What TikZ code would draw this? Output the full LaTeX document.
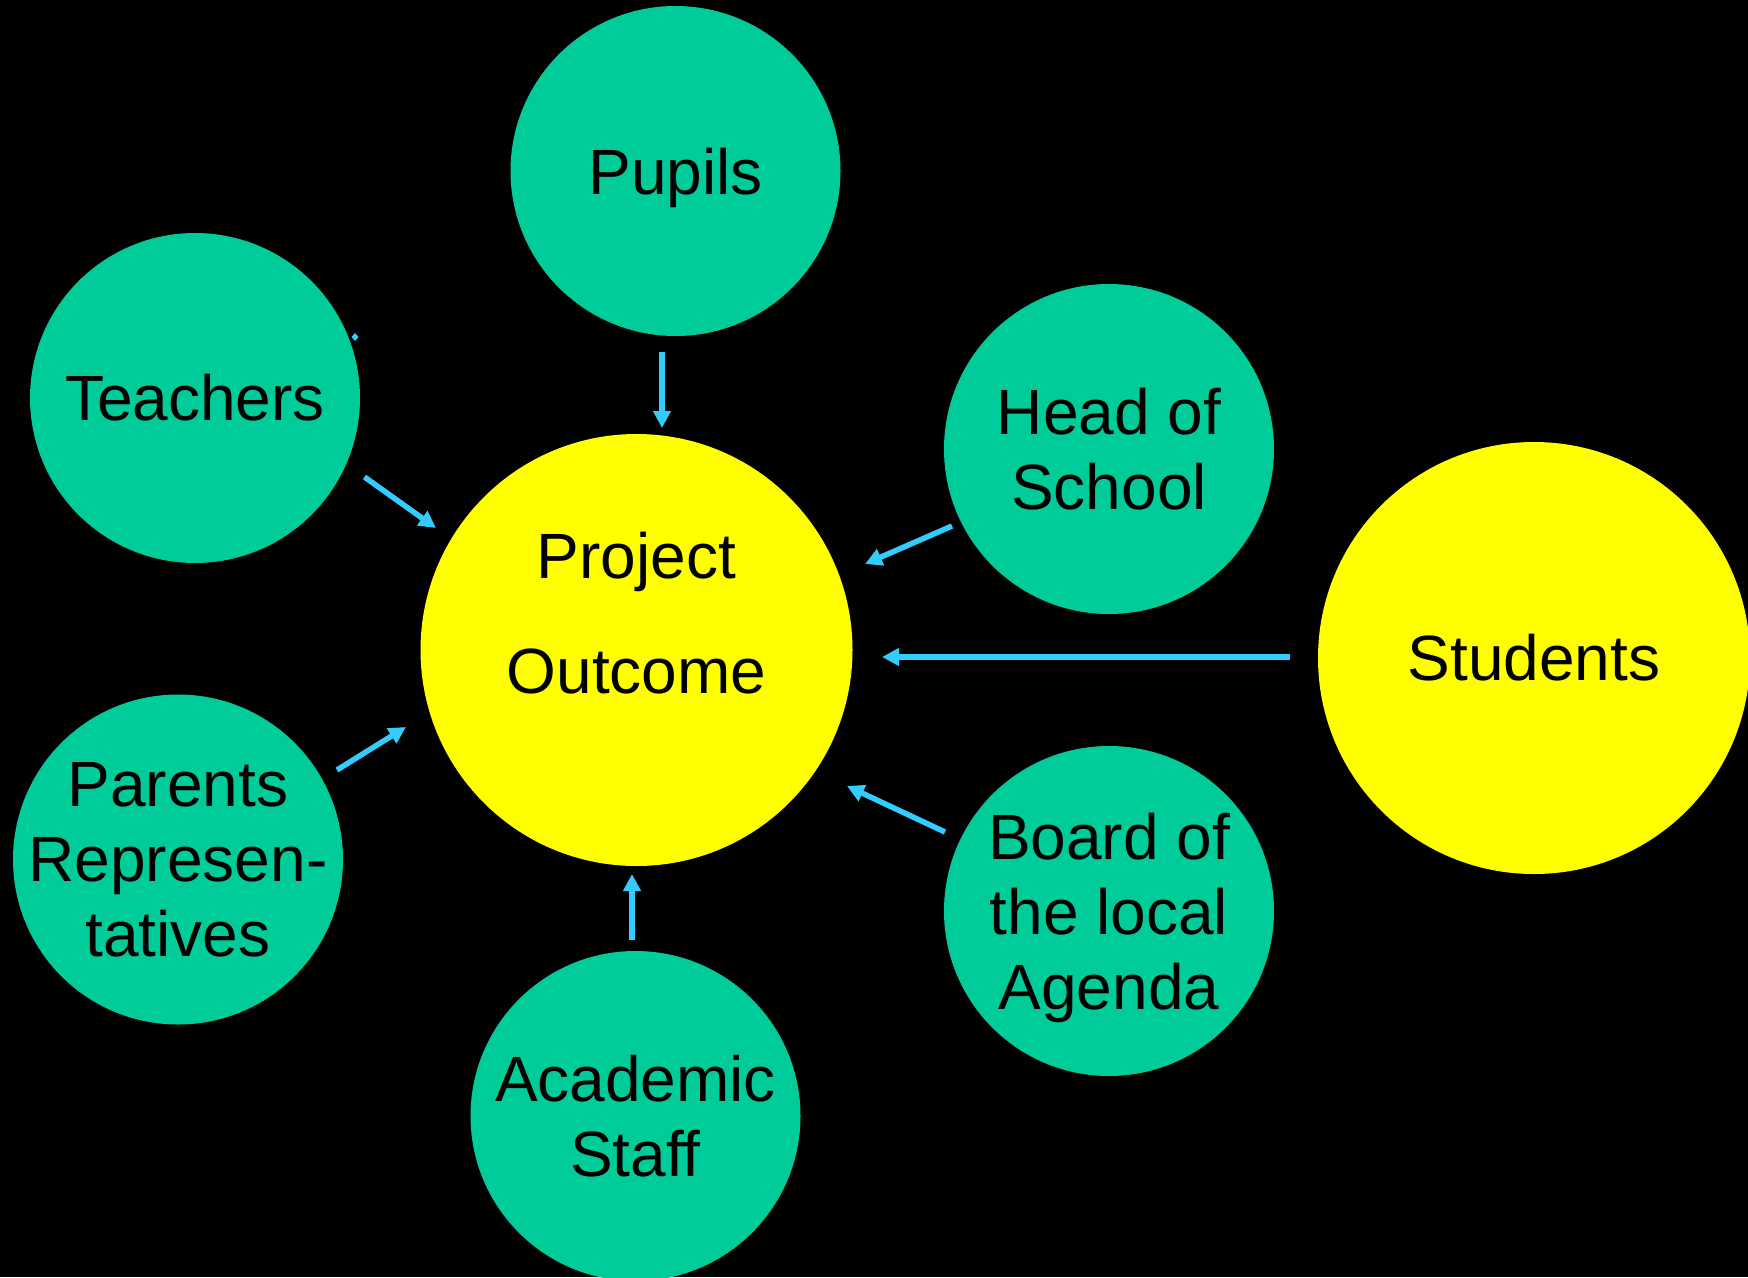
\documentclass[tikz,border=0pt]{standalone}
\usepackage{fontspec}
\setmainfont{Liberation Sans}
\usetikzlibrary{arrows.meta}
\definecolor{bubgreen}{HTML}{00CC99}
\definecolor{bubyellow}{HTML}{FFFF00}
\definecolor{arrblue}{HTML}{33CCFF}
\begin{document}
\begin{tikzpicture}[x=1pt,y=-1pt,
  bubble/.style={circle,inner sep=0pt,minimum size=330pt,fill=bubgreen},
  bigbubble/.style={circle,inner sep=0pt,minimum size=432pt,fill=bubyellow},
  txt/.style={align=center,inner sep=0pt,font=\fontsize{64}{75}\selectfont,text=black},
  flow/.style={draw=arrblue,line width=5.5pt,-{Triangle[length=17pt,width=17pt]}}]
\useasboundingbox (0,0) rectangle (1748,1277);
\fill[black] (0,0) rectangle (1748,1277);
% bubbles
\node[bubble] (pupils) at (675.5,171) {};
\node[bubble] (teachers) at (195,398) {};
\node[bubble] (head) at (1109,449) {};
\node[bigbubble] (po) at (636.5,650) {};
\node[bigbubble] (students) at (1534,658) {};
\node[bubble] (parents) at (178,859.5) {};
\node[bubble] (board) at (1109,911) {};
\node[bubble] (academic) at (635.5,1116) {};
% texts
\node[txt] (pupilst) at ([yshift=-7pt]pupils.center) {Pupils};
\node[txt] (teacherst) at (teachers.center) {Teachers};
\node[txt] (headt) at (head.center) {Head of\\School};
\node[txt,font=\fontsize{64}{115}\selectfont] (pot) at ([yshift=37pt]po.center) {Project\\Outcome};
\node[txt] (studentst) at (students.center) {Students};
\node[txt] (parentst) at (parents.center) {Parents\\Represen-\\tatives};
\node[txt] (boardt) at ([yshift=-7pt]board.center) {Board of\\the local\\Agenda};
\node[txt] (academict) at (academic.center) {Academic\\Staff};
% arrow ends
\coordinate (pupA) at (662,352); \coordinate (pupB) at (662,428);
\coordinate (teaA) at (364.5,477); \coordinate (teaB) at (436,528);
\coordinate (heaA) at (952,526); \coordinate (heaB) at (865,564);
\coordinate (stuA) at (1290,657); \coordinate (stuB) at (882,657);
\coordinate (booA) at (945,832); \coordinate (booB) at (847,786);
\coordinate (acaA) at (632,940); \coordinate (acaB) at (632,874);
\coordinate (parA) at (337,770); \coordinate (parB) at (406,727);
\draw[flow] (pupA) -- (pupB);
\draw[flow] (teaA) -- (teaB);
\draw[flow] (heaA) -- (heaB);
\draw[flow] (stuA) -- (stuB);
\draw[flow] (booA) -- (booB);
\draw[flow] (acaA) -- (acaB);
\draw[flow] (parA) -- (parB);
% small stray mark
\coordinate (dot) at (355,337);
\fill[arrblue] (dot) ++(-3.5,0) -- ++(3.5,-4) -- ++(3.5,4) -- ++(-3.5,4) -- cycle;
\end{tikzpicture}
\end{document}
